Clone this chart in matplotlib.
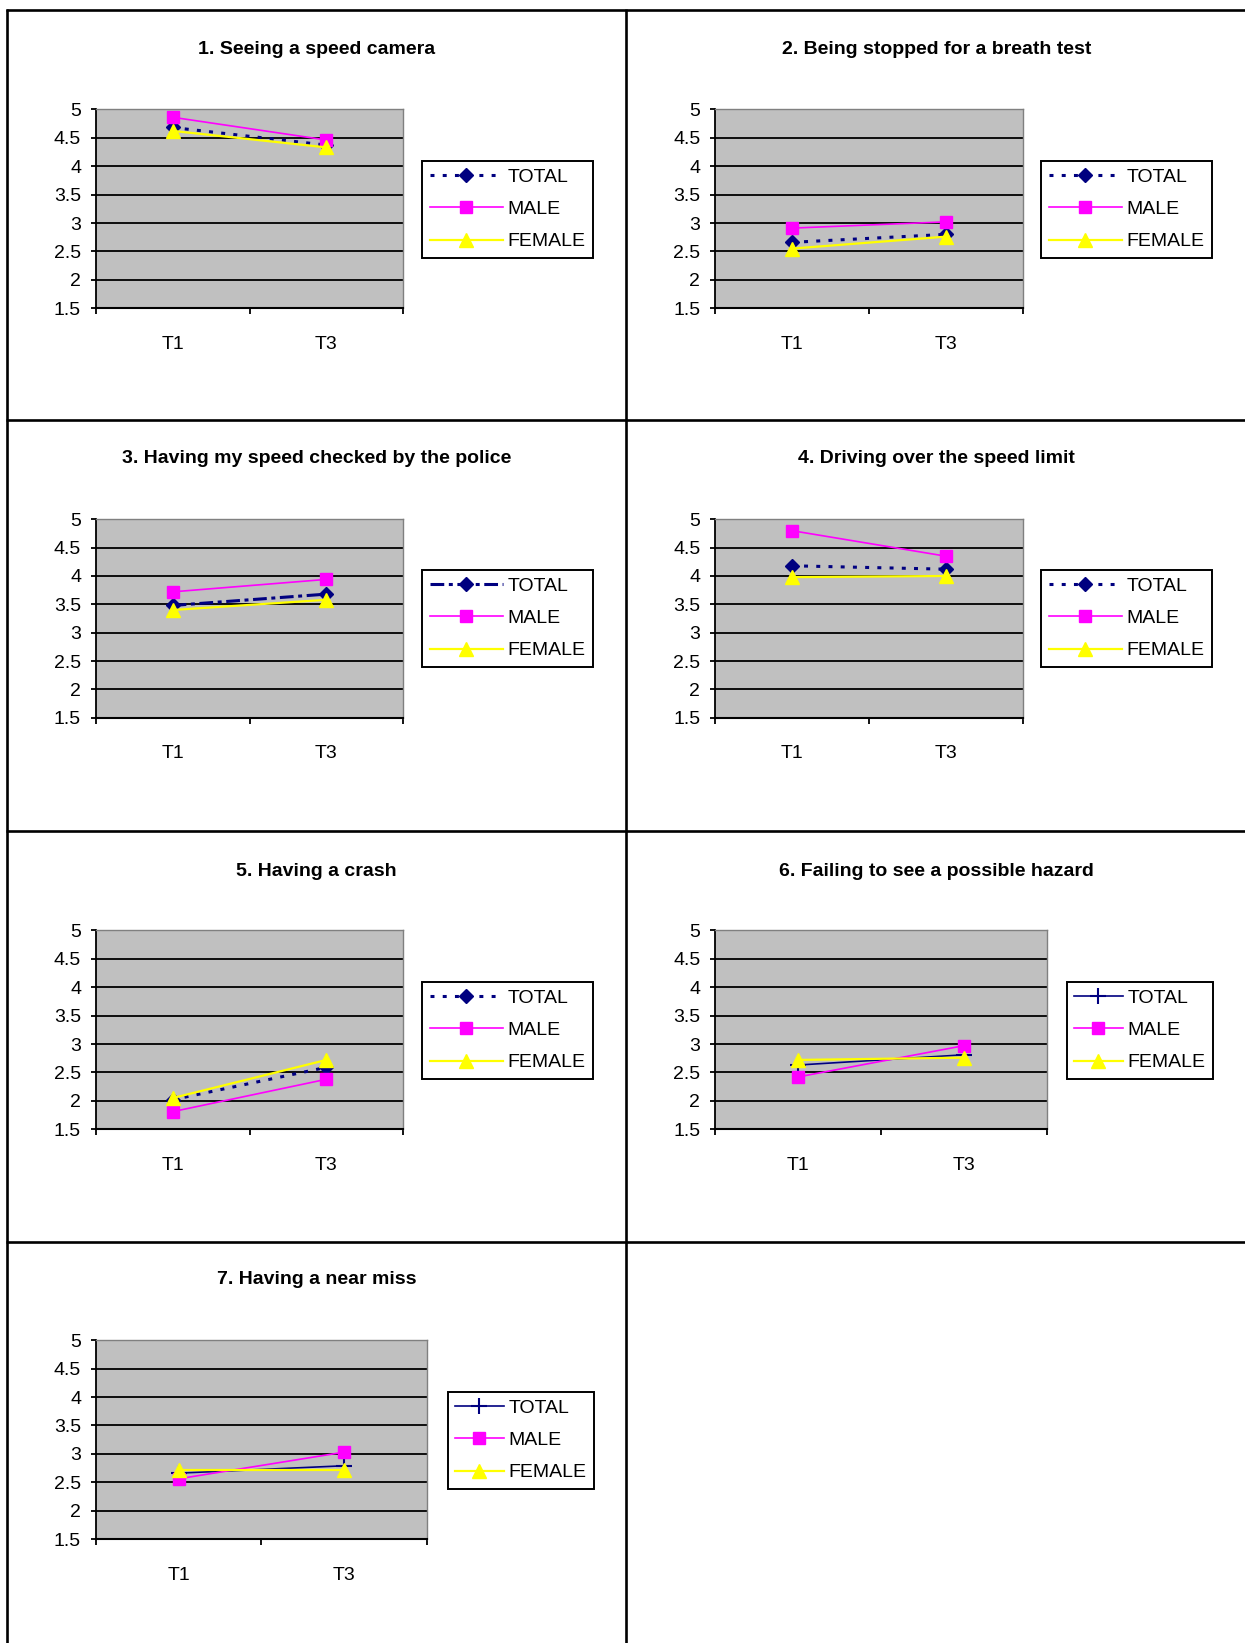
"""
Seven small line charts: mean ratings at T1 and T3, total / male / female.
"""
import numpy as np
import matplotlib.pyplot as plt
from matplotlib.lines import Line2D

plt.rcParams['font.family'] = ['Liberation Sans', 'DejaVu Sans']

W, H = 1245, 1643

periods = ['T1', 'T3']
series_names = ['TOTAL', 'MALE', 'FEMALE']
titles = ['1. Seeing a speed camera',
          '2. Being stopped for a breath test',
          '3. Having my speed checked by the police',
          '4. Driving over the speed limit',
          '5. Having a crash',
          '6. Failing to see a possible hazard',
          '7. Having a near miss']

# values per chart, [T1, T3]
total = [[4.68, 4.37], [2.66, 2.80], [3.48, 3.68], [4.18, 4.12],
         [2.02, 2.59], [2.63, 2.81], [2.66, 2.79]]
male = [[4.86, 4.46], [2.91, 3.02], [3.72, 3.94], [4.80, 4.35],
        [1.81, 2.38], [2.42, 2.97], [2.56, 3.03]]
female = [[4.62, 4.33], [2.55, 2.76], [3.40, 3.58], [3.98, 4.00],
          [2.05, 2.72], [2.72, 2.76], [2.71, 2.71]]

y_ticks = [1.5, 2, 2.5, 3, 3.5, 4, 4.5, 5]

# line style of the TOTAL series in each chart
total_style = ['dot', 'dot', 'dashdot', 'dot', 'dot', 'plus', 'plus']

# layout in pixels
row_top = [109.3, 519.3, 930.3, 1340.3]
row_bottom = [308.3, 717.7, 1129.3, 1539.0]
row_title = [50, 459, 871, 1280]
row_legend = [161, 570, 982, 1392]
col_left = [95.7, 714.9]
col_title = [316.3, 936.9]
axes_right = [403.3, 1022.6, 403.3, 1022.6, 403.3, 1046.5, 427.0]
legend_left = [422.3, 1041.3, 422.3, 1041.3, 422.3, 1066.8, 447.6]

NAVY = '#000080'
MAGENTA = '#FF00FF'
YELLOW = '#FFFF00'


def fx(px):
    return px / W


def fy(py):
    return 1 - py / H


fig = plt.figure(figsize=(W / 100, H / 100), dpi=100)

# panel frame lines
frame = dict(color='black', lw=1.9, solid_capstyle='butt')
fig.add_artist(Line2D([fx(6), fx(W)], [fy(10), fy(10)], **frame))
fig.add_artist(Line2D([fx(7), fx(7)], [fy(9), fy(H)], **frame))
fig.add_artist(Line2D([fx(626), fx(626)], [fy(9), fy(H)], **frame))
for yl in [420, 831, 1241.5]:
    fig.add_artist(Line2D([fx(6), fx(W)], [fy(yl), fy(yl)], **frame))

x = np.arange(len(periods)) + 0.5

for i, title in enumerate(titles):
    row, col = i // 2, i % 2
    left, right = col_left[col], axes_right[i]
    top, bottom = row_top[row], row_bottom[row]
    ax = fig.add_axes([fx(left), fy(bottom), (right - left) / W, (bottom - top) / H])
    ax.set_facecolor('#C0C0C0')
    ax.set_xlim(0, len(periods))
    ax.set_ylim(y_ticks[0], y_ticks[-1])

    ax.set_yticks(y_ticks)
    ax.set_yticklabels([f'{v:g}' for v in y_ticks])
    ax.yaxis.grid(True, color='black', lw=1.3)
    gl = ax.get_ygridlines()
    gl[0].set_visible(False)
    gl[-1].set_visible(False)
    ax.set_axisbelow(True)

    ax.set_xticks(np.arange(len(periods) + 1))
    ax.set_xticklabels([])
    ax.set_xticks(x, minor=True)
    ax.set_xticklabels(periods, minor=True)
    ax.tick_params(axis='x', which='major', direction='out', length=4, width=1.3)
    ax.tick_params(axis='x', which='minor', length=0, pad=20, labelsize=14)
    ax.tick_params(axis='y', direction='out', length=3.5, width=1.3, pad=7,
                   labelsize=14)

    for s in ['top', 'right']:
        ax.spines[s].set_color('#808080')
        ax.spines[s].set_linewidth(1.0)
    ax.spines['left'].set_linewidth(1.3)
    ax.spines['bottom'].set_linewidth(1.5)

    st = total_style[i]
    if st == 'dot':
        tkw = dict(ls=(0, (1.3, 2.7)), lw=2.2, marker='D', ms=6.8, dash_capstyle='butt')
    elif st == 'dashdot':
        tkw = dict(ls=(0, (4.5, 1.5, 1.3, 1.5)), lw=2.2, marker='D', ms=6.8,
                   dash_capstyle='butt')
    else:
        tkw = dict(ls='-', lw=1.2, marker='+', ms=12, mew=1.5)
    h_total, = ax.plot(x, total[i], color=NAVY, mfc=NAVY, mec=NAVY,
                       clip_on=False, **tkw)
    h_male, = ax.plot(x, male[i], color=MAGENTA, lw=1.2, marker='s', ms=8.6,
                      mfc=MAGENTA, mec=MAGENTA, clip_on=False)
    h_female, = ax.plot(x, female[i], color=YELLOW, lw=1.6, marker='^', ms=9.5,
                        mfc=YELLOW, mec=YELLOW, clip_on=False)

    hl = 2.5 if st == 'plus' else 3.75
    leg = ax.legend([h_total, h_male, h_female], series_names,
                    loc='upper left', bbox_to_anchor=(fx(legend_left[i]), fy(row_legend[row])),
                    bbox_transform=fig.transFigure, borderaxespad=0,
                    fancybox=False, framealpha=1, edgecolor='black',
                    fontsize=14, handlelength=hl, handletextpad=0.25,
                    borderpad=0.38, labelspacing=0.75)
    leg.get_frame().set_linewidth(1.4)

    fig.text(fx(col_title[col]), fy(row_title[row]), title, ha='center', va='center',
             fontsize=14, fontweight='bold')

fig.savefig('out.png', dpi=100)
